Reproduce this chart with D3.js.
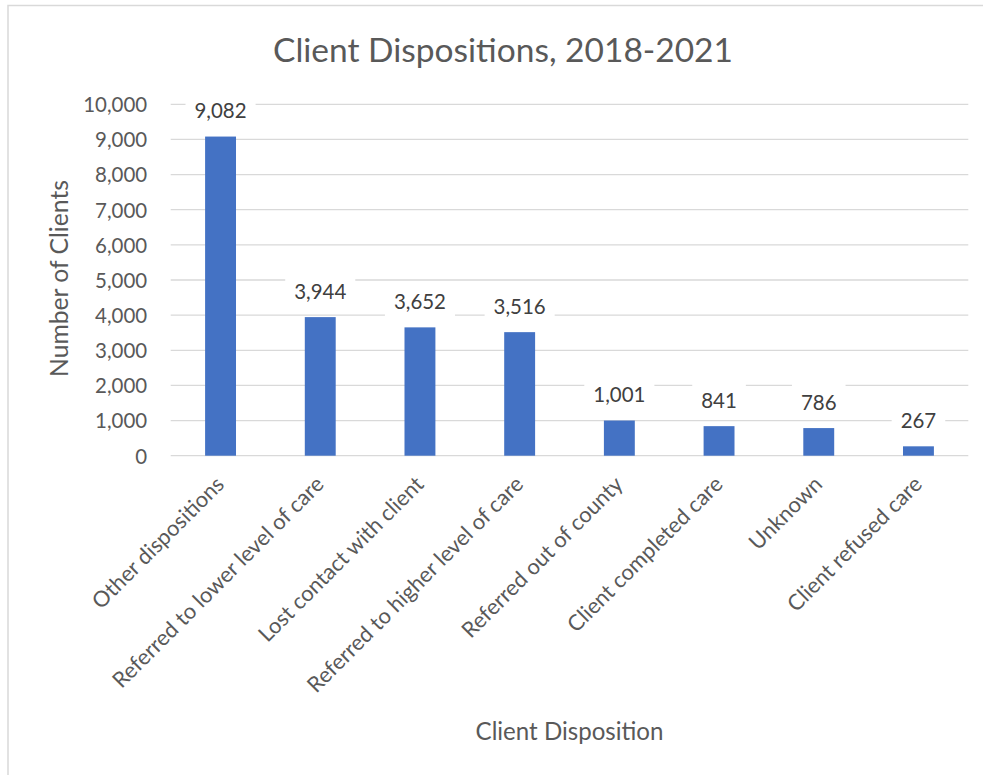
<!DOCTYPE html>
<html>
<head>
<meta charset="utf-8">
<script src="https://cdn.jsdelivr.net/npm/d3@7"></script>
<style>
  html, body { margin: 0; padding: 0; background: #ffffff; }
  svg { display: block; }
  text { font-family: Lato, "Open Sans", sans-serif; }
</style>
</head>
<body>
<svg id="chart" width="983" height="775"></svg>
<script>
// Client dispositions, 2018-2021
const categories = [
  "Other dispositions",
  "Referred to lower level of care",
  "Lost contact with client",
  "Referred to higher level of care",
  "Referred out of county",
  "Client completed care",
  "Unknown",
  "Client refused care"
];
const clients = [9082, 3944, 3652, 3516, 1001, 841, 786, 267];
const yTicks = [0, 1000, 2000, 3000, 4000, 5000, 6000, 7000, 8000, 9000, 10000];

const chartTitle = "Client Dispositions, 2018-2021";
const yTitle = "Number of Clients";
const xTitle = "Client Disposition";

const svg = d3.select("#chart");
const fmt = d3.format(",");
const grey = "#595959";
const labelGrey = "#404040";
const barBlue = "#4472C4";
const gridGrey = "#d9d9d9";

// Font size so that a string spans a given width
function fitSize(str, width, weight) {
  const t = svg.append("text").attr("font-size", 100).attr("font-weight", weight || 400).text(str);
  const w = t.node().getComputedTextLength();
  t.remove();
  return 100 * width / w;
}
const CAP = 0.72; // cap height ratio of the face

const tickFs = fitSize("10,000", 64);
const catFs = fitSize("Other dispositions", 176);
const titleFs = fitSize(chartTitle, 460);
const yTitleFs = fitSize(yTitle, 197);
const xTitleFs = fitSize(xTitle, 188);

// chart frame
svg.append("rect")
  .attr("x", 8).attr("y", 5.5)
  .attr("width", 1000).attr("height", 800)
  .attr("fill", "#ffffff")
  .attr("stroke", gridGrey).attr("stroke-width", 1.5);

const plot = { left: 170.7, right: 968.3, top: 104.3, bottom: 455.7 };

const x = d3.scaleBand()
  .domain(categories)
  .range([plot.left, plot.right])
  .paddingInner(0.69)
  .paddingOuter(0.345);

const y = d3.scaleLinear()
  .domain([0, 10000])
  .range([plot.bottom, plot.top]);

// gridlines
svg.append("g")
  .selectAll("line")
  .data(yTicks)
  .join("line")
  .attr("x1", plot.left).attr("x2", plot.right)
  .attr("y1", d => y(d)).attr("y2", d => y(d))
  .attr("stroke", gridGrey).attr("stroke-width", 1.3);

// y axis tick labels
const yAxis = d3.axisLeft(y).tickValues(yTicks).tickFormat(fmt).tickSize(0).tickPadding(0);
const yG = svg.append("g").attr("transform", `translate(${plot.left - 23.5},0)`).call(yAxis);
yG.select(".domain").remove();
yG.selectAll("text")
  .attr("font-family", "Lato, 'Open Sans', sans-serif")
  .attr("font-size", tickFs)
  .attr("fill", grey)
  .attr("dy", null)
  .attr("y", tickFs * CAP / 2);

// bars
svg.append("g")
  .selectAll("rect")
  .data(clients)
  .join("rect")
  .attr("x", (d, i) => x(categories[i]))
  .attr("width", x.bandwidth())
  .attr("y", d => y(d))
  .attr("height", d => y(0) - y(d))
  .attr("fill", barBlue);

// data labels on white boxes
const labelG = svg.append("g");
clients.forEach((v, i) => {
  const cx = x(categories[i]) + x.bandwidth() / 2;
  const mid = y(v) - 25.5;
  const g = labelG.append("g");
  const t = g.append("text")
    .attr("x", cx)
    .attr("y", mid + tickFs * CAP / 2)
    .attr("text-anchor", "middle")
    .attr("font-size", tickFs)
    .attr("fill", labelGrey)
    .text(fmt(v));
  const w = t.node().getComputedTextLength();
  g.insert("rect", "text")
    .attr("x", cx - w / 2 - 9)
    .attr("y", mid - 18.5)
    .attr("width", w + 18)
    .attr("height", 35)
    .attr("fill", "#ffffff");
});

// category labels, rotated
const xAxis = d3.axisBottom(x).tickSize(0).tickPadding(0);
const xG = svg.append("g").attr("transform", `translate(0,${plot.bottom})`).call(xAxis);
xG.select(".domain").remove();
xG.selectAll("text")
  .attr("font-family", "Lato, 'Open Sans', sans-serif")
  .attr("font-size", catFs)
  .attr("fill", grey)
  .attr("text-anchor", "end")
  .attr("dy", null)
  .attr("y", 0)
  .attr("transform", "translate(5,30) rotate(-45)");

// chart title
svg.append("text")
  .attr("x", 503).attr("y", 50 + titleFs * CAP / 2)
  .attr("text-anchor", "middle")
  .attr("font-size", titleFs)
  .attr("fill", grey)
  .text(chartTitle);

// y axis title
svg.append("text")
  .attr("transform", `translate(68,278.5) rotate(-90)`)
  .attr("text-anchor", "middle")
  .attr("font-size", yTitleFs)
  .attr("fill", grey)
  .text(yTitle);

// x axis title
svg.append("text")
  .attr("x", (plot.left + plot.right) / 2)
  .attr("y", 723 + xTitleFs * CAP)
  .attr("text-anchor", "middle")
  .attr("font-size", xTitleFs)
  .attr("fill", grey)
  .text(xTitle);
</script>
</body>
</html>
